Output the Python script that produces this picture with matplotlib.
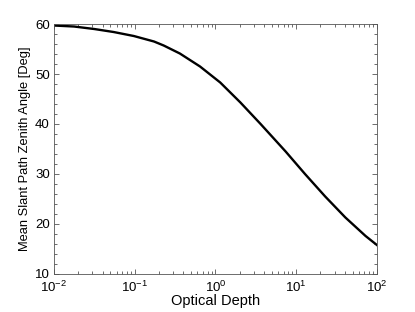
import numpy as np
import matplotlib.pyplot as plt
from matplotlib.ticker import MultipleLocator, LogLocator, NullFormatter

plt.rcParams['font.family'] = ['Liberation Sans', 'DejaVu Sans']
plt.rcParams['mathtext.fontset'] = 'custom'
plt.rcParams['mathtext.rm'] = 'Liberation Sans'

# values (log10 of optical depth, angle in degrees)
log_tau = [-2.0, -1.75, -1.5, -1.26, -1.01, -0.76, -0.64, -0.44, -0.19,
           0.06, 0.31, 0.56, 0.87, 1.11, 1.36, 1.61, 1.86, 2.0]
angle = [59.7, 59.5, 59.0, 58.4, 57.6, 56.5, 55.7, 54.1, 51.5,
         48.3, 44.3, 40.0, 34.5, 30.0, 25.5, 21.3, 17.6, 15.8]
tau = 10.0 ** np.array(log_tau)

fig = plt.figure(figsize=(4.15, 3.12), dpi=100)
ax = fig.add_axes([0.130, 0.122, 0.778, 0.801])

ax.plot(tau, angle, color='black', linewidth=1.7, solid_joinstyle='round')

ax.set_xscale('log')
ax.set_xlim(1e-2, 1e2)
ax.set_ylim(10, 60)
ax.yaxis.set_major_locator(MultipleLocator(10))
ax.yaxis.set_minor_locator(MultipleLocator(2))
ax.xaxis.set_major_locator(LogLocator(base=10))
ax.xaxis.set_minor_locator(LogLocator(base=10, subs=np.arange(2, 10)))
ax.xaxis.set_minor_formatter(NullFormatter())

for s in ax.spines.values():
    s.set_linewidth(0.6)
    s.set_color('#555555')
ax.tick_params(which='both', direction='in', top=True, right=True,
               labelsize=9.5, color='#555555', width=0.6)
ax.tick_params(axis='x', pad=4.5)
ax.tick_params(axis='y', pad=3)
ax.tick_params(which='major', length=3.6)
ax.tick_params(which='minor', length=2.0)

ax.set_xlabel('Optical Depth', fontsize=10.5, labelpad=-1)
ax.set_ylabel('Mean Slant Path Zenith Angle [Deg]', fontsize=9.3, labelpad=3)

fig.savefig('out.png', dpi=100)
